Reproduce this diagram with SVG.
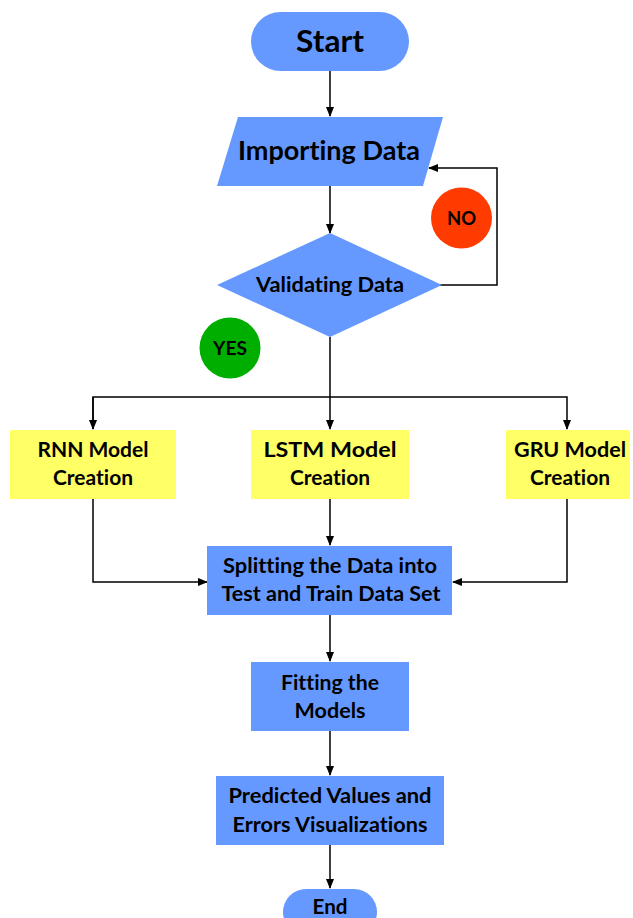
<svg xmlns="http://www.w3.org/2000/svg" width="633" height="918" viewBox="0 0 633 918">
<defs>
<marker id="arr" markerWidth="10" markerHeight="8" refX="9" refY="4" orient="auto" markerUnits="userSpaceOnUse">
<path d="M0,0 L10,4 L0,8 Z" fill="#000"/>
</marker>
<style>
.blue{fill:#6699FF;}
.yellow{fill:#FFFF66;}
.t{font-family:Lato,"Liberation Sans",sans-serif;font-weight:bold;fill:#000;text-anchor:middle;font-variant-ligatures:none;}
.line{fill:none;stroke:#000;stroke-width:1.5;}
</style>
</defs>
<rect width="633" height="918" fill="#fff"/>
<g id="connectors">
<path class="line" d="M330,71 V116" marker-end="url(#arr)"/>
<path class="line" d="M330,186 V233" marker-end="url(#arr)"/>
<path class="line" d="M405,285 H497 V168 H429" marker-end="url(#arr)"/>
<path class="line" d="M330,337 V429" marker-end="url(#arr)"/>
<path class="line" d="M93,429 V397 H567 V429" marker-end="url(#arr)"/>
<path class="line" d="M93,397 V429" marker-end="url(#arr)"/>
<path class="line" d="M93,499 V582 H207" marker-end="url(#arr)"/>
<path class="line" d="M567,499 V582 H453" marker-end="url(#arr)"/>
<path class="line" d="M330,499 V545" marker-end="url(#arr)"/>
<path class="line" d="M330,615 V661" marker-end="url(#arr)"/>
<path class="line" d="M330,731 V775" marker-end="url(#arr)"/>
<path class="line" d="M330,845 V888" marker-end="url(#arr)"/>
</g>
<g id="start">
<rect class="blue" x="251" y="12" width="158" height="59" rx="29.5"/>
<text class="t" x="330" y="52" font-size="30" textLength="68" lengthAdjust="spacingAndGlyphs">Start</text>
</g>
<g id="importing">
<polygon class="blue" points="238,117 443,117 423,186 217,186"/>
<text class="t" x="329" y="160" font-size="26" textLength="182" lengthAdjust="spacingAndGlyphs">Importing Data</text>
</g>
<g id="validating">
<polygon class="blue" points="330,233 442,285 330,337 217,285"/>
<text class="t" x="330" y="292" font-size="20" textLength="148" lengthAdjust="spacingAndGlyphs">Validating Data</text>
</g>
<g id="no">
<circle cx="461.5" cy="218" r="30.5" fill="#FF3B00"/>
<text class="t" x="461.5" y="225" font-size="19" textLength="29" lengthAdjust="spacingAndGlyphs">NO</text>
</g>
<g id="yes">
<circle cx="230" cy="348" r="30.5" fill="#00AE00"/>
<text class="t" x="230" y="355" font-size="19" textLength="34" lengthAdjust="spacingAndGlyphs">YES</text>
</g>
<g id="rnn">
<rect class="yellow" x="10" y="430" width="166" height="69"/>
<text class="t" x="93" y="457" font-size="21" textLength="111" lengthAdjust="spacingAndGlyphs">RNN Model</text>
<text class="t" x="93" y="485" font-size="21" textLength="80" lengthAdjust="spacingAndGlyphs">Creation</text>
</g>
<g id="lstm">
<rect class="yellow" x="251" y="430" width="158" height="69"/>
<text class="t" x="330" y="457" font-size="21" textLength="133" lengthAdjust="spacingAndGlyphs">LSTM Model</text>
<text class="t" x="330" y="485" font-size="21" textLength="80" lengthAdjust="spacingAndGlyphs">Creation</text>
</g>
<g id="gru">
<rect class="yellow" x="506" y="430" width="124" height="69"/>
<text class="t" x="570" y="457" font-size="21" textLength="112" lengthAdjust="spacingAndGlyphs">GRU Model</text>
<text class="t" x="570" y="485" font-size="21" textLength="80" lengthAdjust="spacingAndGlyphs">Creation</text>
</g>
<g id="splitting">
<rect class="blue" x="207" y="546" width="245" height="69"/>
<text class="t" x="330" y="573" font-size="21" textLength="214" lengthAdjust="spacingAndGlyphs">Splitting the Data into</text>
<text class="t" x="331" y="601" font-size="21" textLength="219" lengthAdjust="spacingAndGlyphs">Test and Train Data Set</text>
</g>
<g id="fitting">
<rect class="blue" x="251" y="662" width="158" height="69"/>
<text class="t" x="330" y="690" font-size="21" textLength="98" lengthAdjust="spacingAndGlyphs">Fitting the</text>
<text class="t" x="330" y="718" font-size="21" textLength="71" lengthAdjust="spacingAndGlyphs">Models</text>
</g>
<g id="predicted">
<rect class="blue" x="216" y="776" width="228" height="69"/>
<text class="t" x="330" y="803" font-size="21" textLength="203" lengthAdjust="spacingAndGlyphs">Predicted Values and</text>
<text class="t" x="330" y="832" font-size="21" textLength="195" lengthAdjust="spacingAndGlyphs">Errors Visualizations</text>
</g>
<g id="end">
<rect class="blue" x="283" y="889" width="94" height="46" rx="23"/>
<text class="t" x="330" y="914" font-size="21" textLength="35" lengthAdjust="spacingAndGlyphs">End</text>
</g>
</svg>
